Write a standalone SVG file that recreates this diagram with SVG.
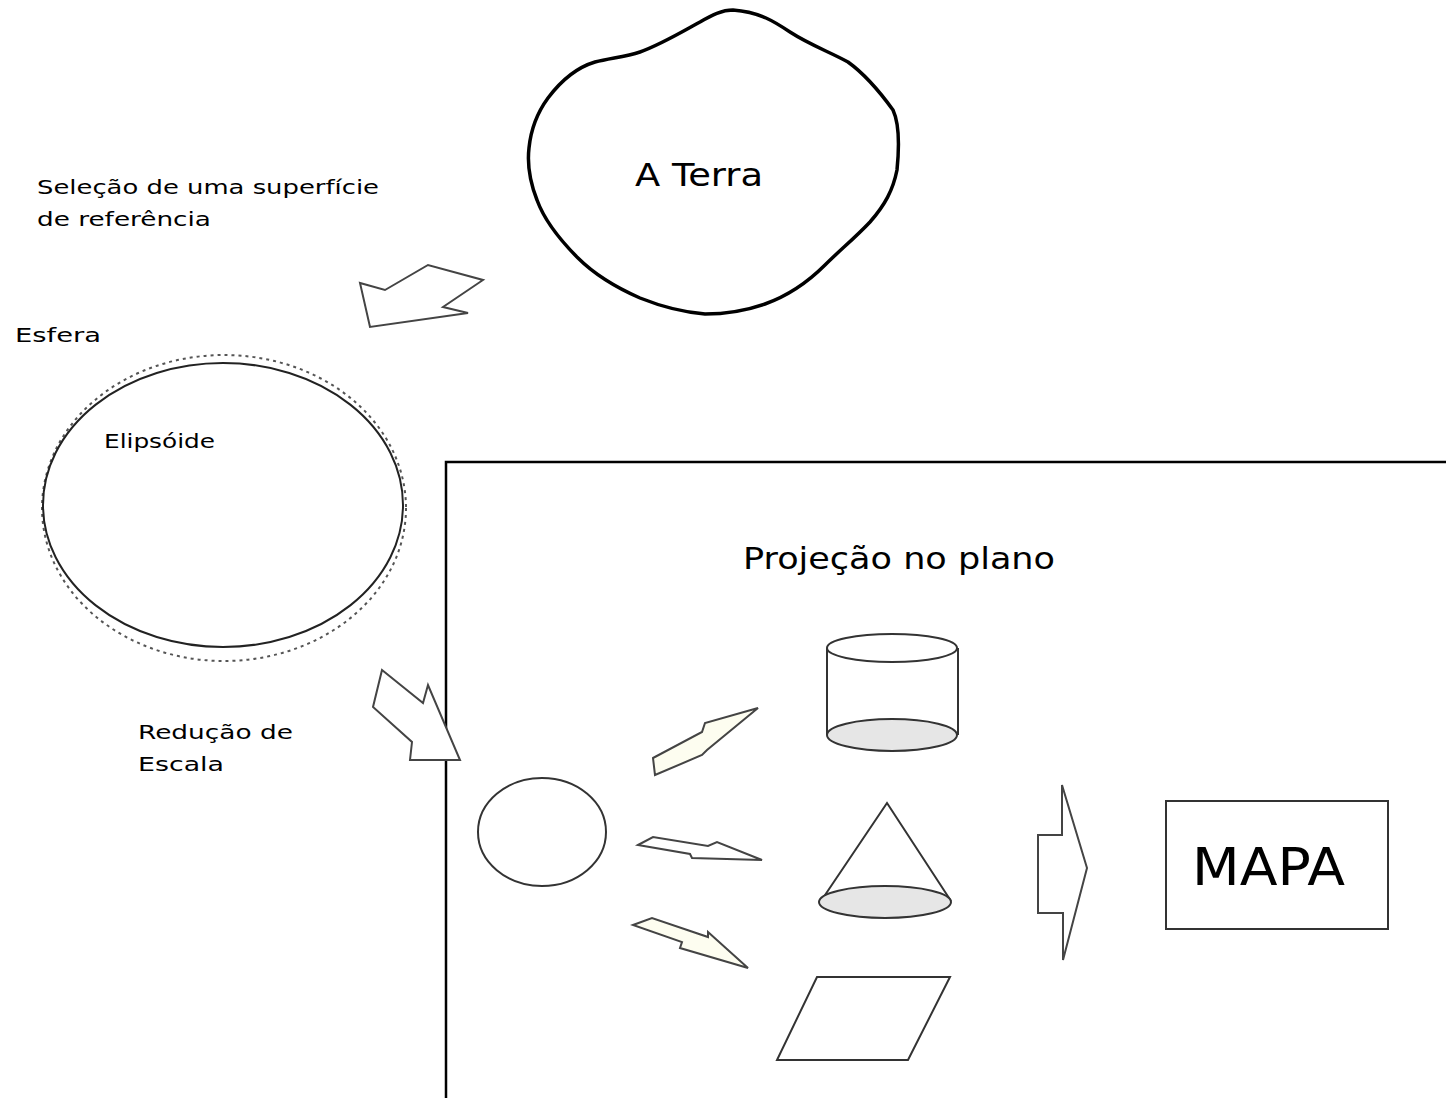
<svg xmlns="http://www.w3.org/2000/svg" width="1446" height="1098" viewBox="0 0 1446 1098">
<style>
text{font-family:"DejaVu Sans","Liberation Sans",Arial,sans-serif;fill:#000}
.lbl{font-size:20px}
.shape{fill:none;stroke:#333;stroke-width:2}
.arrow{fill:#fff;stroke:#444;stroke-width:2;stroke-linejoin:miter}
.arrowf{fill:#fdfdf0;stroke:#444;stroke-width:2}
</style>
<rect width="1446" height="1098" fill="#fff"/>
<g id="frame">
<path d="M446,1098 V462 H1446" fill="none" stroke="#000" stroke-width="2.5"/>
</g>
<g id="terra">
<path d="M733,10 C760,12 775,22 790,32 C810,45 830,52 848,62 C866,75 880,92 893,110 C900,125 899,150 897,170 C893,190 885,205 870,222 C855,238 840,250 825,265 C808,282 790,295 765,304 C745,311 725,314 705,314 C680,312 660,306 640,298 C615,287 595,275 578,258 C560,240 545,222 537,200 C530,182 527,165 529,148 C531,128 537,113 548,98 C560,82 575,68 595,62 C610,58 625,57 640,52 C660,45 680,33 700,22 C712,15 722,10 733,10 Z" fill="none" stroke="#000" stroke-width="3.5"/>
<text x="635" y="186" font-size="32" textLength="128" lengthAdjust="spacingAndGlyphs">A Terra</text>
</g>
<g id="selecao">
<text class="lbl" x="37" y="194" textLength="342" lengthAdjust="spacingAndGlyphs">Seleção de uma superfície</text>
<text class="lbl" x="37" y="226" textLength="174" lengthAdjust="spacingAndGlyphs">de referência</text>
</g>
<g id="esfera">
<text class="lbl" x="15" y="342" textLength="86" lengthAdjust="spacingAndGlyphs">Esfera</text>
<ellipse cx="224" cy="508" rx="182" ry="153" fill="none" stroke="#555" stroke-width="2" stroke-dasharray="3,4"/>
</g>
<g id="elipsoide">
<ellipse cx="223" cy="505" rx="180" ry="142" fill="none" stroke="#222" stroke-width="2"/>
<text class="lbl" x="104" y="448" textLength="111" lengthAdjust="spacingAndGlyphs">Elipsóide</text>
</g>
<g id="reducao">
<text class="lbl" x="138" y="739" textLength="155" lengthAdjust="spacingAndGlyphs">Redução de</text>
<text class="lbl" x="138" y="771" textLength="86" lengthAdjust="spacingAndGlyphs">Escala</text>
</g>
<g id="projecao">
<text x="743" y="569" font-size="30" textLength="312" lengthAdjust="spacingAndGlyphs">Projeção no plano</text>
</g>
<g id="circulo">
<ellipse cx="542" cy="832" rx="64" ry="54" class="shape"/>
</g>
<g id="cilindro">
<path d="M827,648 V735 M958,648 V735" class="shape"/>
<ellipse cx="892" cy="735" rx="65" ry="16" fill="#e6e6e6" stroke="#333" stroke-width="2"/>
<ellipse cx="892" cy="648" rx="65" ry="14" fill="#fff" stroke="#333" stroke-width="2"/>
</g>
<g id="cone">
<path d="M821,901 L887,803 L951,901" class="shape"/>
<ellipse cx="885" cy="902" rx="66" ry="16" fill="#e6e6e6" stroke="#333" stroke-width="2"/>
</g>
<g id="plano">
<polygon points="817,977 950,977 908,1060 777,1060" class="shape"/>
</g>
<g id="mapa">
<rect x="1166" y="801" width="222" height="128" fill="#fff" stroke="#333" stroke-width="2"/>
<text x="1192" y="885" font-size="51" font-family="Liberation Sans, Arial, sans-serif" textLength="153" lengthAdjust="spacingAndGlyphs">MAPA</text>
</g>
<g id="connectors">
<polygon class="arrow" points="385,290 428,265 483,280 443,307 468,313 370,327 360,283"/>
<polygon class="arrow" points="382,670 423,703 428,685 460,760 410,760 412,742 373,707"/>
<polygon class="arrowf" points="653,758 702,732 705,723 758,708 707,750 702,755 655,775"/>
<polygon class="arrow" points="638,845 653,837 708,846 717,842 762,860 692,858 690,854"/>
<polygon class="arrowf" points="633,925 652,918 708,937 708,932 748,968 680,948 682,942"/>
<polygon class="arrow" points="1062,785 1087,868 1063,960 1063,913 1038,913 1038,835 1062,835"/>
</g>
</svg>
